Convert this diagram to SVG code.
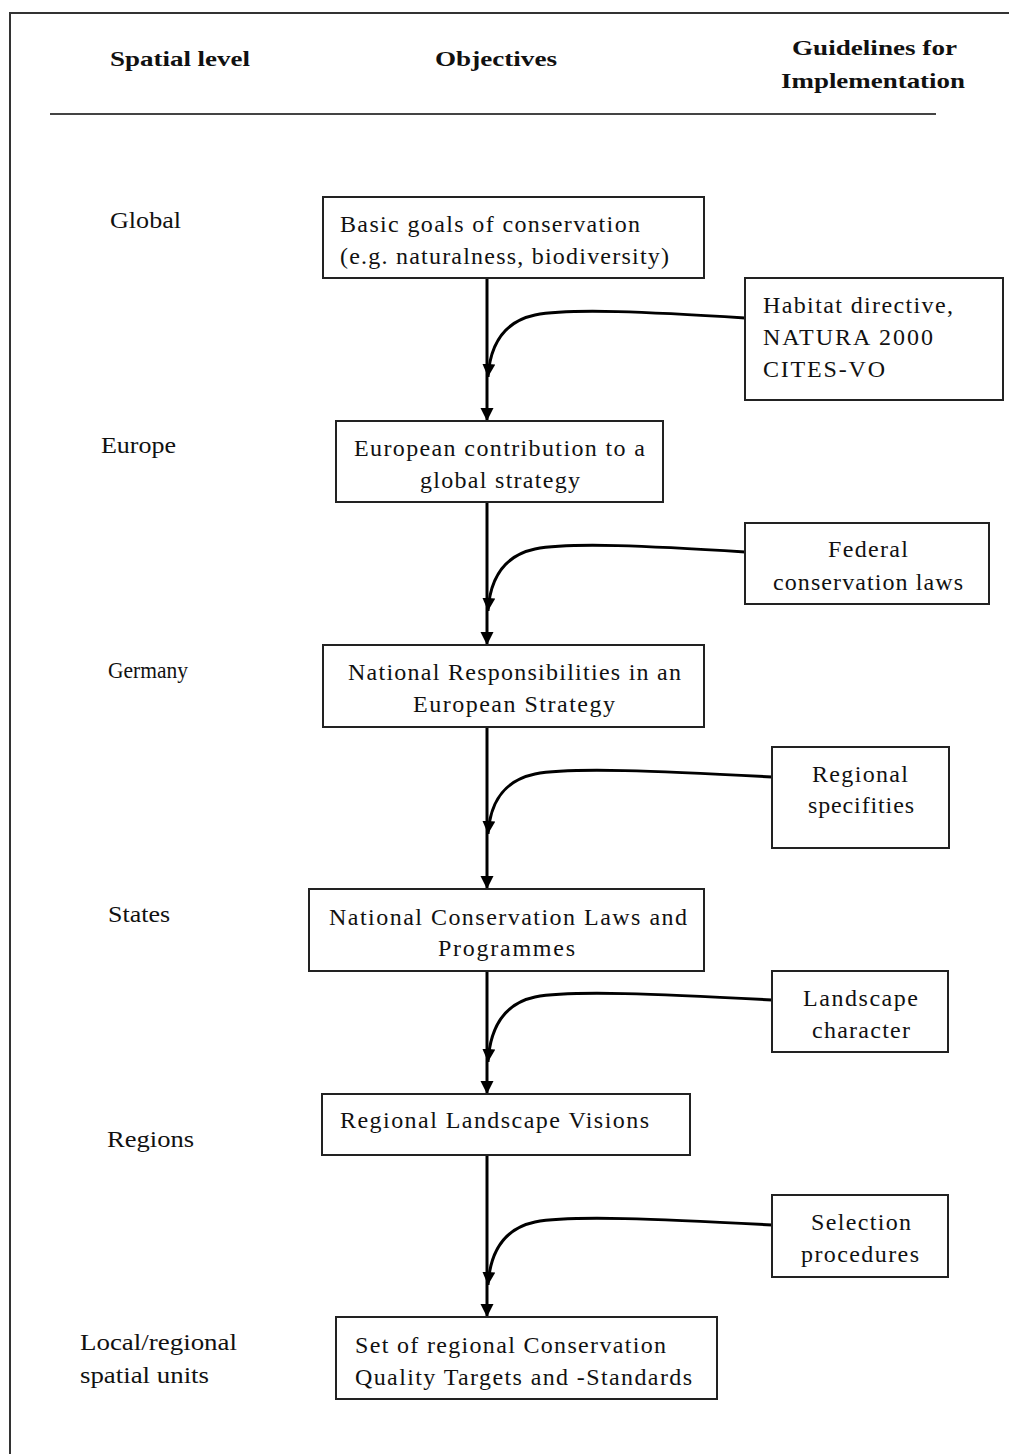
<svg xmlns="http://www.w3.org/2000/svg" width="1009" height="1454" viewBox="0 0 1009 1454">
  <style>
    text { font-family: "Liberation Serif", "Times New Roman", serif; fill: #111; }
    .hd { font-size: 22px; font-weight: bold; }
    .lb { font-size: 24px; }
    .tx { font-size: 24px; }
    .box { fill: #fff; stroke: #222; stroke-width: 2; }
    .flow { fill: none; stroke: #000; stroke-width: 3; }
  </style>
  <defs>
    <marker id="head" markerUnits="userSpaceOnUse" markerWidth="14" markerHeight="14" refX="13" refY="6.5" orient="auto">
      <path d="M0,0 L13,6.5 L0,13 z" fill="#000"/>
    </marker>
  </defs>

  <rect width="1009" height="1454" fill="#fff"/>
  <!-- outer frame (open to the right and bottom) -->
  <rect x="10" y="13" width="1100" height="1500" fill="none" stroke="#333" stroke-width="2"/>

  <!-- column headings -->
  <g id="headings">
    <text class="hd" x="110" y="66" textLength="140" lengthAdjust="spacingAndGlyphs">Spatial level</text>
    <text class="hd" x="435" y="66" textLength="122" lengthAdjust="spacingAndGlyphs">Objectives</text>
    <text class="hd" x="792" y="55" textLength="165" lengthAdjust="spacingAndGlyphs">Guidelines for</text>
    <text class="hd" x="781" y="88" textLength="184" lengthAdjust="spacingAndGlyphs">Implementation</text>
    <line x1="50" y1="114" x2="936" y2="114" stroke="#444" stroke-width="2"/>
  </g>

  <!-- spatial levels -->
  <g id="levels">
    <text class="lb" x="110" y="228" textLength="71" lengthAdjust="spacingAndGlyphs">Global</text>
    <text class="lb" x="101" y="453" textLength="75" lengthAdjust="spacingAndGlyphs">Europe</text>
    <text class="lb" x="108" y="678" textLength="80" lengthAdjust="spacingAndGlyphs">Germany</text>
    <text class="lb" x="108" y="922" textLength="62" lengthAdjust="spacingAndGlyphs">States</text>
    <text class="lb" x="107" y="1147" textLength="87" lengthAdjust="spacingAndGlyphs">Regions</text>
    <text class="lb" x="80" y="1350" textLength="157" lengthAdjust="spacingAndGlyphs">Local/regional</text>
    <text class="lb" x="80" y="1383" textLength="129" lengthAdjust="spacingAndGlyphs">spatial units</text>
  </g>

  <!-- connectors -->
  <g id="connectors">
    <line class="flow" x1="487" y1="278" x2="487" y2="421" marker-end="url(#head)"/>
    <line class="flow" x1="487" y1="502" x2="487" y2="645" marker-end="url(#head)"/>
    <line class="flow" x1="487" y1="727" x2="487" y2="889" marker-end="url(#head)"/>
    <line class="flow" x1="487" y1="971" x2="487" y2="1094" marker-end="url(#head)"/>
    <line class="flow" x1="487" y1="1155" x2="487" y2="1317" marker-end="url(#head)"/>

    <path class="flow" d="M745,318 C650,312 570,308 535,315 C502,322 490,346 488,377" marker-end="url(#head)"/>
    <path class="flow" d="M745,552 C650,546 570,542 535,549 C502,556 490,580 488,611" marker-end="url(#head)"/>
    <path class="flow" d="M772,777 C660,771 570,767 535,774 C502,781 490,804 488,834" marker-end="url(#head)"/>
    <path class="flow" d="M772,1000 C660,994 570,990 535,997 C502,1004 490,1030 488,1062" marker-end="url(#head)"/>
    <path class="flow" d="M772,1225 C660,1219 570,1215 535,1222 C502,1229 490,1254 488,1285" marker-end="url(#head)"/>
  </g>

  <!-- objectives -->
  <g id="obj-global">
    <rect class="box" x="323" y="197" width="381" height="81"/>
    <text class="tx" x="340" y="232" textLength="300" lengthAdjust="spacing">Basic goals of conservation</text>
    <text class="tx" x="340" y="264" textLength="329" lengthAdjust="spacing">(e.g. naturalness, biodiversity)</text>
  </g>
  <g id="obj-europe">
    <rect class="box" x="336" y="421" width="327" height="81"/>
    <text class="tx" x="354" y="456" textLength="291" lengthAdjust="spacing">European contribution to a</text>
    <text class="tx" x="420" y="488" textLength="160" lengthAdjust="spacing">global strategy</text>
  </g>
  <g id="obj-germany">
    <rect class="box" x="323" y="645" width="381" height="82"/>
    <text class="tx" x="348" y="680" textLength="333" lengthAdjust="spacing">National Responsibilities in an</text>
    <text class="tx" x="413" y="712" textLength="202" lengthAdjust="spacing">European Strategy</text>
  </g>
  <g id="obj-states">
    <rect class="box" x="309" y="889" width="395" height="82"/>
    <text class="tx" x="329" y="925" textLength="358" lengthAdjust="spacing">National Conservation Laws and</text>
    <text class="tx" x="438" y="956" textLength="137" lengthAdjust="spacing">Programmes</text>
  </g>
  <g id="obj-regions">
    <rect class="box" x="322" y="1094" width="368" height="61"/>
    <text class="tx" x="340" y="1128" textLength="309" lengthAdjust="spacing">Regional Landscape Visions</text>
  </g>
  <g id="obj-local">
    <rect class="box" x="336" y="1317" width="381" height="82"/>
    <text class="tx" x="355" y="1353" textLength="311" lengthAdjust="spacing">Set of regional Conservation</text>
    <text class="tx" x="355" y="1385" textLength="337" lengthAdjust="spacing">Quality Targets and -Standards</text>
  </g>

  <!-- guidelines -->
  <g id="guide-habitat">
    <rect class="box" x="745" y="278" width="258" height="122"/>
    <text class="tx" x="763" y="313" textLength="190" lengthAdjust="spacing">Habitat directive,</text>
    <text class="tx" x="763" y="345" textLength="170" lengthAdjust="spacing">NATURA 2000</text>
    <text class="tx" x="763" y="377" textLength="122" lengthAdjust="spacing">CITES-VO</text>
  </g>
  <g id="guide-federal">
    <rect class="box" x="745" y="523" width="244" height="81"/>
    <text class="tx" x="828" y="557" textLength="80" lengthAdjust="spacing">Federal</text>
    <text class="tx" x="773" y="590" textLength="190" lengthAdjust="spacing">conservation laws</text>
  </g>
  <g id="guide-regional">
    <rect class="box" x="772" y="747" width="177" height="101"/>
    <text class="tx" x="812" y="782" textLength="96" lengthAdjust="spacing">Regional</text>
    <text class="tx" x="808" y="813" textLength="106" lengthAdjust="spacing">specifities</text>
  </g>
  <g id="guide-landscape">
    <rect class="box" x="772" y="971" width="176" height="81"/>
    <text class="tx" x="803" y="1006" textLength="115" lengthAdjust="spacing">Landscape</text>
    <text class="tx" x="812" y="1038" textLength="98" lengthAdjust="spacing">character</text>
  </g>
  <g id="guide-selection">
    <rect class="box" x="772" y="1195" width="176" height="82"/>
    <text class="tx" x="811" y="1230" textLength="100" lengthAdjust="spacing">Selection</text>
    <text class="tx" x="801" y="1262" textLength="118" lengthAdjust="spacing">procedures</text>
  </g>
</svg>
